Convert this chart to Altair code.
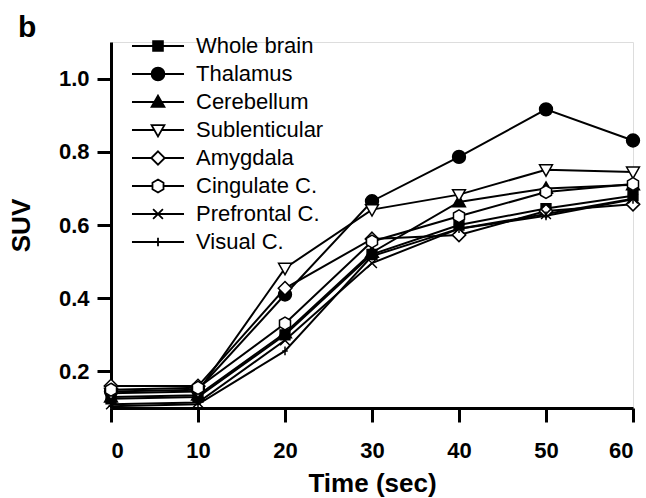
import altair as alt
import pandas as pd

times = [0, 10, 20, 30, 40, 50, 60]
series_names = ["Whole brain", "Thalamus", "Cerebellum", "Sublenticular",
                "Amygdala", "Cingulate C.", "Prefrontal C.", "Visual C."]

whole_brain = [0.125, 0.130, 0.300, 0.520, 0.600, 0.645, 0.680]
thalamus = [0.145, 0.150, 0.410, 0.665, 0.786, 0.916, 0.831]
cerebellum = [0.130, 0.135, 0.305, 0.525, 0.663, 0.700, 0.710]
sublenticular = [0.140, 0.145, 0.482, 0.642, 0.683, 0.751, 0.745]
amygdala = [0.160, 0.160, 0.427, 0.562, 0.573, 0.638, 0.657]
cingulate = [0.150, 0.155, 0.331, 0.555, 0.624, 0.690, 0.712]
prefrontal = [0.110, 0.115, 0.285, 0.496, 0.590, 0.630, 0.672]
visual = [0.105, 0.110, 0.256, 0.515, 0.590, 0.625, 0.670]

all_values = [whole_brain, thalamus, cerebellum, sublenticular,
              amygdala, cingulate, prefrontal, visual]

rows = []
for name, vals in zip(series_names, all_values):
    for t, v in zip(times, vals):
        rows.append({"series": name, "t": t, "suv": v})
df = pd.DataFrame(rows)

# marker shapes (unit coordinates)
marker_paths = [
    "M-0.8,-0.8H0.8V0.8H-0.8Z",
    "M-1.05,0A1.05,1.05,0,1,0,1.05,0A1.05,1.05,0,1,0,-1.05,0Z",
    "M0,-1.05L1.05,0.8H-1.05Z",
    "M-1.05,-0.8H1.05L0,1.05Z",
    "M0,-1.1L1.1,0L0,1.1L-1.1,0Z",
    "M0,-1.05L0.9,-0.52V0.52L0,1.05L-0.9,0.52V-0.52Z",
    "M-0.8,-0.8L0.8,0.8M-0.8,0.8L0.8,-0.8",
    "M0,-0.7V0.7M-0.45,0H0.45",
]
L = 4.25
legend_paths = [
    f"M-{L},0H{L}" + marker_paths[0],
    f"M-{L},0H{L}" + marker_paths[1],
    f"M-{L},0H{L}" + marker_paths[2],
    f"M-{L},0H-0.6M0.6,0H{L}" + marker_paths[3],
    f"M-{L},0H-1.1M1.1,0H{L}" + marker_paths[4],
    f"M-{L},0H-0.9M0.9,0H{L}" + marker_paths[5],
    f"M-{L},0H{L}" + marker_paths[6],
    f"M-{L},0H{L}" + marker_paths[7],
]
fills = ["black", "black", "black", "white", "white", "white", "white", "white"]
strokes = ["black"] * len(series_names)

FONT = "Liberation Sans"

x_enc = alt.X("t:Q", scale=alt.Scale(domain=[0, 60], nice=False),
              axis=alt.Axis(values=times, format="d", title="Time (sec)",
                            grid=False, domainColor="black", domainWidth=3,
                            tickColor="black", tickWidth=3, tickSize=14,
                            labelFont=FONT, labelFontWeight="bold",
                            labelFontSize=22, labelColor="black", labelPadding=18,
                            titleFont=FONT, titleFontWeight="bold", titleFontSize=26,
                            titleColor="black", titleBaseline="alphabetic", titleY=83))
y_enc = alt.Y("suv:Q", scale=alt.Scale(domain=[0.1, 1.1], nice=False, zero=False),
              axis=alt.Axis(values=[0.2, 0.4, 0.6, 0.8, 1.0], format=".1f", title="SUV",
                            grid=False, domainColor="black", domainWidth=3,
                            tickColor="black", tickWidth=3, tickSize=14,
                            labelFont=FONT, labelFontWeight="bold",
                            labelFontSize=22, labelColor="black", labelPadding=8,
                            titleFont=FONT, titleFontWeight="bold", titleFontSize=26,
                            titleColor="black", titleBaseline="alphabetic",
                            titleX=-82, titleY=183, titleAngle=270))

base = alt.Chart(df)

lines = base.mark_line(color="black", strokeWidth=2).encode(
    x=x_enc, y=y_enc, detail="series:N")

points = base.mark_point(filled=True, stroke="black", strokeWidth=1.5, size=150,
                         opacity=1).encode(
    x=x_enc, y=y_enc,
    shape=alt.Shape("series:N", scale=alt.Scale(domain=series_names, range=marker_paths),
                    legend=None),
    fill=alt.Fill("series:N", scale=alt.Scale(domain=series_names, range=fills),
                  legend=None),
)

leg = alt.Legend(title=None, orient="none", legendX=36, legendY=-7, padding=0,
                 symbolSize=150, symbolStrokeWidth=1.8, symbolStrokeColor="black",
                 labelFont=FONT, labelFontSize=22, labelColor="black",
                 labelOffset=27, rowPadding=6, symbolLimit=0, labelLimit=0)

legend_layer = base.transform_filter("datum.t < 0").mark_point(
    filled=True, strokeWidth=1.8, size=150, opacity=1).encode(
    x=x_enc, y=y_enc,
    shape=alt.Shape("series:N", scale=alt.Scale(domain=series_names, range=legend_paths),
                    legend=leg),
    fill=alt.Fill("series:N", scale=alt.Scale(domain=series_names, range=fills),
                  legend=leg),
    stroke=alt.Stroke("series:N", scale=alt.Scale(domain=series_names, range=strokes),
                      legend=leg),
)

chart = alt.layer(lines, points, legend_layer).resolve_scale(
    shape="independent", fill="independent", stroke="independent"
).resolve_legend(shape="independent", fill="independent", stroke="independent").properties(
    width=522, height=366,
    autosize=alt.AutoSizeParams(type="none"),
    padding={"left": 111, "top": 42, "right": 13, "bottom": 90},
    title=alt.TitleParams("b", anchor="start", frame="group", font=FONT,
                          fontWeight="bold", fontSize=30, color="black",
                          baseline="alphabetic", offset=5, dx=-93, dy=37),
).configure_view(stroke=None).configure(background="white")

chart.save("out.html", embed_options={"renderer": "svg", "actions": False})
